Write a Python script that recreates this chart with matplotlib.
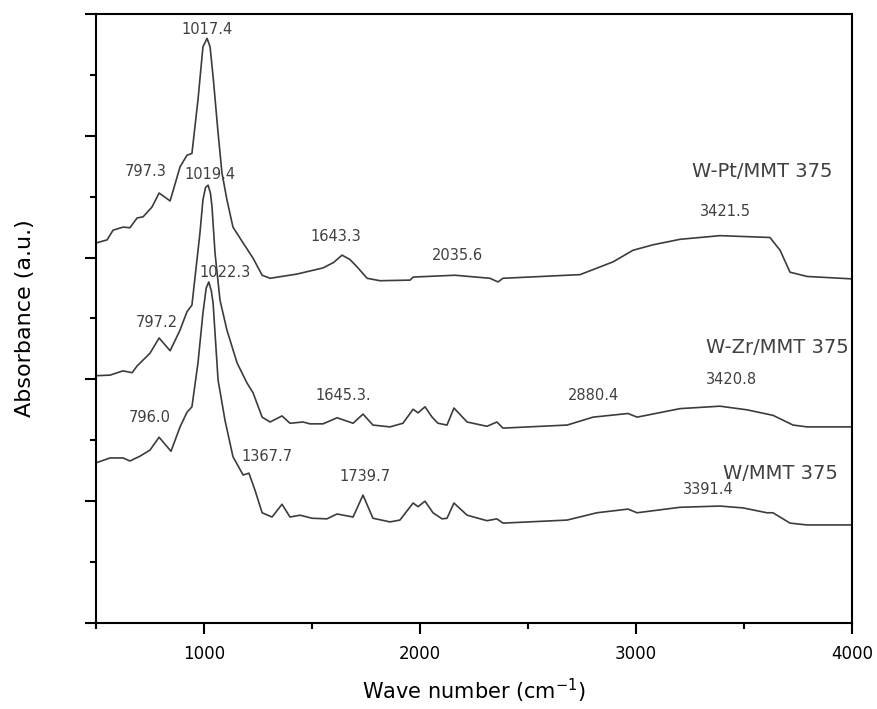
import matplotlib.pyplot as plt
from matplotlib.ticker import MultipleLocator

# Wave numbers (cm-1) and absorbance (offset traces)
pt_x = [500, 551, 579, 625, 657, 690, 718, 759, 792, 843, 889, 921, 944, 972, 995,
        1014, 1028, 1042, 1065, 1083, 1106, 1134, 1181, 1227, 1269, 1306, 1431, 1551,
        1600, 1639, 1675, 1708, 1755, 1815, 1954, 1968, 2162, 2324, 2361, 2384, 2741,
        2894, 2986, 3079, 3204, 3389, 3620, 3667, 3713, 3792, 4000]
pt_y = [6.24, 6.29, 6.45, 6.50, 6.49, 6.65, 6.67, 6.83, 7.06, 6.93, 7.49, 7.68, 7.71, 8.59, 9.46,
        9.60, 9.46, 8.97, 8.05, 7.39, 6.95, 6.50, 6.24, 5.99, 5.71, 5.66, 5.73, 5.83,
        5.92, 6.04, 5.97, 5.85, 5.66, 5.62, 5.63, 5.68, 5.71, 5.66, 5.60, 5.66, 5.72,
        5.93, 6.12, 6.21, 6.30, 6.36, 6.33, 6.12, 5.76, 5.69, 5.65]

zr_x = [500, 565, 625, 667, 690, 750, 792, 843, 889, 921, 944, 981, 995, 1007, 1019,
        1030, 1037, 1051, 1074, 1106, 1153, 1199, 1227, 1269, 1306, 1361, 1398, 1458,
        1491, 1551, 1616, 1690, 1736, 1782, 1861, 1921, 1968, 1991, 2023, 2056, 2083,
        2125, 2157, 2218, 2310, 2356, 2384, 2681, 2801, 2963, 3005, 3204, 3389, 3514,
        3634, 3727, 3792, 4000]
zr_y = [4.06, 4.07, 4.14, 4.11, 4.22, 4.43, 4.68, 4.47, 4.81, 5.11, 5.22, 6.40, 6.95, 7.15, 7.19,
        7.05, 6.83, 6.07, 5.30, 4.81, 4.27, 3.94, 3.78, 3.38, 3.30, 3.40, 3.28, 3.30,
        3.27, 3.27, 3.37, 3.28, 3.43, 3.25, 3.22, 3.28, 3.51, 3.45, 3.55, 3.38, 3.28,
        3.25, 3.53, 3.30, 3.23, 3.30, 3.20, 3.25, 3.38, 3.44, 3.38, 3.52, 3.56, 3.50,
        3.41, 3.25, 3.22, 3.22]

w_x = [500, 565, 625, 657, 704, 750, 792, 847, 889, 921, 944, 972, 995, 1010, 1022,
       1034, 1042, 1065, 1097, 1134, 1181, 1208, 1236, 1269, 1315, 1361, 1398, 1444,
       1500, 1569, 1616, 1690, 1736, 1782, 1861, 1907, 1968, 1991, 2023, 2060, 2102,
       2125, 2157, 2218, 2310, 2356, 2384, 2681, 2819, 2963, 3005, 3204, 3389, 3495,
       3606, 3634, 3713, 3792, 4000]
w_y = [2.63, 2.71, 2.71, 2.66, 2.74, 2.84, 3.05, 2.82, 3.22, 3.46, 3.55, 4.27, 5.09, 5.50, 5.60,
       5.45, 5.25, 3.99, 3.33, 2.73, 2.43, 2.46, 2.18, 1.81, 1.74, 1.95, 1.74, 1.77,
       1.72, 1.71, 1.79, 1.74, 2.10, 1.72, 1.66, 1.69, 1.97, 1.91, 2.00, 1.81, 1.71,
       1.72, 1.97, 1.77, 1.68, 1.71, 1.64, 1.69, 1.81, 1.87, 1.81, 1.90, 1.92, 1.89,
       1.81, 1.81, 1.64, 1.61, 1.61]

# peak labels: text, x, y
peak_text = ["1017.4", "797.3", "1019.4", "1643.3", "2035.6", "3421.5",
             "797.2", "1022.3", "1645.3.", "2880.4", "3420.8",
             "796.0", "1367.7", "1739.7", "3391.4"]
peak_x = [1014, 731, 1028, 1611, 2171, 3412,
          782, 1097, 1644, 2801, 3444,
          750, 1292, 1745, 3333]
peak_y = [9.75, 7.41, 7.37, 6.34, 6.03, 6.75,
          4.93, 5.76, 3.74, 3.73, 3.99,
          3.38, 2.73, 2.40, 2.20]

# sample names
names = ["W-Pt/MMT 375", "W-Zr/MMT 375", "W/MMT 375"]
name_x = [3583, 3653, 3667]
name_y = [7.41, 4.53, 2.46]

fig = plt.figure(figsize=(8.77, 7.09), dpi=100)
ax = fig.add_axes([0.1095, 0.1213, 0.862, 0.859])

line_col = "#3c3c3c"
for xs, ys in [(pt_x, pt_y), (zr_x, zr_y), (w_x, w_y)]:
    ax.plot(xs, ys, color=line_col, lw=1.2)

for t, x, y in zip(peak_text, peak_x, peak_y):
    ax.text(x, y, t, fontsize=10.5, color="#404040", ha="center", va="center")
for t, x, y in zip(names, name_x, name_y):
    ax.text(x, y, t, fontsize=14, color="#404040", ha="center", va="center")

ax.set_xlim(500, 4000)
ax.set_ylim(0, 10)
ax.xaxis.set_major_locator(MultipleLocator(1000))
ax.xaxis.set_minor_locator(MultipleLocator(500))
ax.yaxis.set_major_locator(MultipleLocator(2))
ax.yaxis.set_minor_locator(MultipleLocator(1))
ax.set_yticklabels([])
ax.tick_params(which="both", direction="out", width=1.5, top=False, right=False)
ax.tick_params(which="major", length=8, labelsize=12, pad=8)
ax.tick_params(which="minor", length=4.5)
for s in ax.spines.values():
    s.set_linewidth(1.5)

ax.set_xlabel("Wave number (cm$^{-1}$)", fontsize=15, labelpad=10)
ax.set_ylabel("Absorbance (a.u.)", fontsize=16, labelpad=28)

fig.savefig("out.png", dpi=100)
